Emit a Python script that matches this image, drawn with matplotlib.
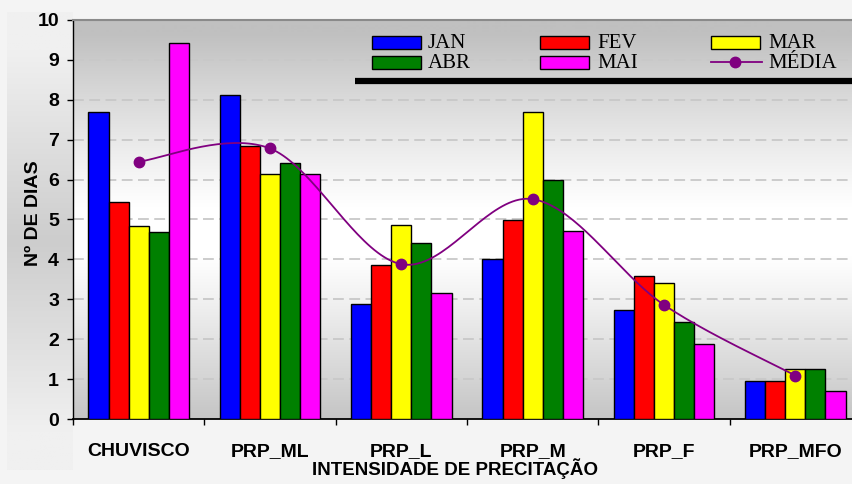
import numpy as np
import matplotlib
matplotlib.use("Agg")
import matplotlib.pyplot as plt
from matplotlib.patches import Rectangle
from matplotlib.lines import Line2D
from matplotlib.colors import LinearSegmentedColormap

# Number of days per precipitation-intensity class, by month
categories = ["CHUVISCO", "PRP_ML", "PRP_L", "PRP_M", "PRP_F", "PRP_MFO"]
jan = [7.69, 8.12, 2.88, 4.00, 2.73, 0.96]
fev = [5.44, 6.85, 3.85, 4.98, 3.58, 0.96]
mar = [4.83, 6.15, 4.85, 7.70, 3.42, 1.26]
abr = [4.69, 6.42, 4.42, 6.00, 2.42, 1.26]
mai = [9.43, 6.15, 3.15, 4.70, 1.87, 0.69]
media = [6.45, 6.78, 3.88, 5.51, 2.86, 1.09]

series = [("JAN", jan, "#0000ff"), ("FEV", fev, "#ff0000"), ("MAR", mar, "#ffff00"),
          ("ABR", abr, "#008000"), ("MAI", mai, "#ff00ff")]
yticks = list(range(0, 11))

W, H = 852, 484
fig = plt.figure(figsize=(W / 100, H / 100), dpi=100)
fig.patch.set_facecolor("#f4f4f4")


def fx(x):
    return x / W


def fy(y):
    return 1 - y / H


# soft band behind the y-axis title
band = fig.add_axes([fx(7), fy(470), fx(66), (470 - 12) / H], zorder=-5)
g = np.clip(np.abs(np.linspace(-1, 1, 256)) * 1.2, 0, 1)[:, None]
band_cmap = LinearSegmentedColormap.from_list("band", ["#cdcdcd", "#f0f0f0"])
band.imshow(g, aspect="auto", cmap=band_cmap, extent=[0, 1, 0, 1], vmin=0, vmax=1)
band.axis("off")

ax = fig.add_axes([fx(73), fy(419), (861 - 73) / W, (419 - 20) / H])

# plot-area gradient: gray at top and bottom, white through the middle
t = np.linspace(0, 1, 400)
grad = np.clip((np.abs(t - 0.47) - 0.06) / 0.44, 0, 1)[:, None] ** 1.1
pa_cmap = LinearSegmentedColormap.from_list("pa", ["#ffffff", "#c0c0c0"])
ax.imshow(grad, aspect="auto", cmap=pa_cmap, extent=[0, 1, 0, 1],
          transform=ax.transAxes, origin="lower", zorder=0, vmin=0, vmax=1)

x = np.arange(len(categories))
bw = 0.153
for i, (name, vals, col) in enumerate(series):
    ax.bar(x + (i - 2) * bw, vals, width=bw, color=col, edgecolor="black",
           linewidth=1.0, zorder=3)

# smoothed mean line (cardinal Bezier through the points)
px = x.astype(float)
py = np.array(media, dtype=float)
P = np.column_stack([px, py])
Pe = np.vstack([P[0], P, P[-1]])
curve = []
for k in range(len(P) - 1):
    p0, p1, p2, p3 = Pe[k], Pe[k + 1], Pe[k + 2], Pe[k + 3]
    c1 = p1 + (p2 - p0) / 6
    c2 = p2 - (p3 - p1) / 6
    s = np.linspace(0, 1, 40)[:, None]
    seg = ((1 - s) ** 3) * p1 + 3 * ((1 - s) ** 2) * s * c1 + 3 * (1 - s) * s ** 2 * c2 + s ** 3 * p2
    curve.append(seg)
curve = np.vstack(curve)
ax.plot(curve[:, 0], curve[:, 1], color="#800080", lw=1.3, zorder=4)
ax.plot(px, py, "o", color="#800080", ms=7.5, zorder=5)

ax.set_xlim(-0.5, 5.5)
ax.set_ylim(0, 10)
ax.set_yticks(yticks)
ax.set_yticklabels([str(v) for v in yticks], fontsize=14, fontweight="bold",
                   family="Liberation Sans")
ax.set_xticks(x)
ax.set_xticklabels(categories, fontsize=14, fontweight="bold", family="Liberation Sans")
ax.set_xticks(np.arange(-0.5, 6.0, 1.0), minor=True)
ax.tick_params(axis="x", which="major", length=0, pad=17)
ax.tick_params(axis="x", which="minor", length=4, width=1, direction="out")
ax.tick_params(axis="y", length=4, width=1, direction="out", pad=6)

for yv in yticks[1:-1]:
    ax.axhline(yv, color="#c8c8c8", lw=1.3, ls=(0, (6, 3)), zorder=1)

ax.spines["left"].set_color("black")
ax.spines["left"].set_linewidth(1.0)
ax.spines["bottom"].set_color("black")
ax.spines["bottom"].set_linewidth(1.3)
ax.spines["top"].set_color("#8a8a8a")
ax.spines["top"].set_linewidth(1.5)
ax.spines["right"].set_visible(False)

fig.text(fx(34), fy(213), "Nº DE DIAS", rotation=90, ha="center", va="center",
         fontsize=14, fontweight="bold", family="Liberation Sans")
fig.text(fx(455), fy(469), "INTENSIDADE DE PRECITAÇÃO", ha="center", va="center",
         fontsize=13.5, fontweight="bold", family="Liberation Sans")

# legend block
leg_font = dict(fontsize=15, family="Liberation Serif", va="center", ha="left")
cols = [(372, 428), (540, 597), (711, 768)]
rows = [42, 62]
entries = [("JAN", "#0000ff"), ("FEV", "#ff0000"), ("MAR", "#ffff00"),
           ("ABR", "#008000"), ("MAI", "#ff00ff"), ("MÉDIA", None)]
for idx, (lab, col) in enumerate(entries):
    r, c = divmod(idx, 3)
    x0, tx = cols[c]
    yc = rows[r]
    if col is not None:
        fig.add_artist(Rectangle((fx(x0), fy(yc + 6.5)), 49 / W, 13 / H,
                                 facecolor=col, edgecolor="black", lw=1.0,
                                 transform=fig.transFigure, zorder=10))
    else:
        fig.add_artist(Line2D([fx(x0), fx(x0 + 51)], [fy(yc), fy(yc)],
                              color="#800080", lw=1.3, transform=fig.transFigure, zorder=10))
        fig.add_artist(Line2D([fx(x0 + 24)], [fy(yc)], marker="o", ms=7.5,
                              color="#800080", transform=fig.transFigure, zorder=11))
    fig.text(fx(tx), fy(yc + 1), lab, zorder=10, **leg_font)

fig.add_artist(Line2D([fx(355), fx(852)], [fy(81), fy(81)], color="black", lw=4.5,
                      transform=fig.transFigure, zorder=10, solid_capstyle="butt"))

fig.savefig("out.png", dpi=100, facecolor=fig.get_facecolor())
